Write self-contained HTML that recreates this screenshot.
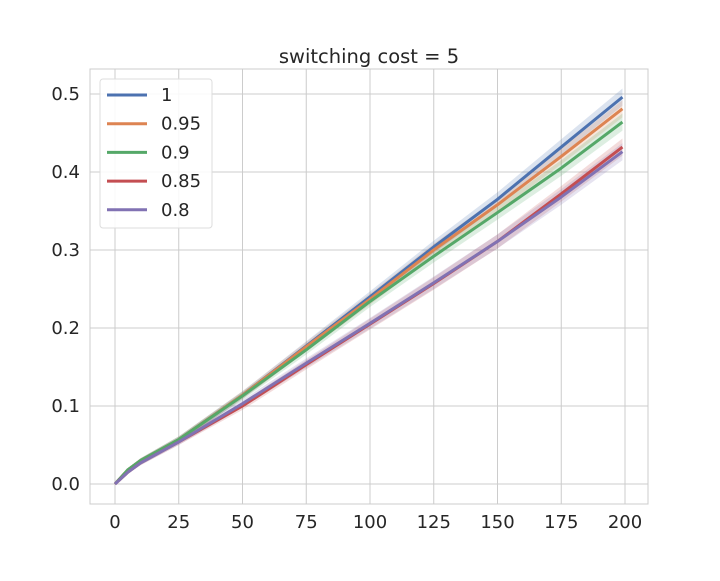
<!DOCTYPE html>
<html><head><meta charset="utf-8"><style>
body{margin:0;background:#fff}
svg{font-family:"DejaVu Sans","Liberation Sans",sans-serif}
</style></head><body>
<svg id="chart" width="720" height="576">
<rect x="90" y="69" width="558" height="435" fill="#fff" stroke="#ccc" stroke-width="1"/>
<g id="grid"></g><g id="bands"></g><g id="lines"></g><g id="ticks"></g>
<text x="369" y="63" text-anchor="middle" font-size="19.5" fill="#262626">switching cost = 5</text>
<g id="legend"></g>
</svg>
<script>
const xs=[0,5,10,25,50,75,100,125,150,175,199];
const seriesNames=["1","0.95","0.9","0.85","0.8"];
const colors=["#4c72b0","#dd8452","#55a868","#c44e52","#8172b3"];
const s1=[0,0.018,0.03,0.057,0.114,0.177,0.240,0.304,0.365,0.432,0.496];
const s095=[0,0.018,0.03,0.057,0.114,0.176,0.237,0.300,0.358,0.420,0.481];
const s09=[0,0.018,0.03,0.057,0.113,0.172,0.234,0.292,0.348,0.405,0.464];
const s085=[0,0.015,0.027,0.054,0.100,0.153,0.205,0.257,0.311,0.372,0.432];
const s08=[0,0.015,0.027,0.054,0.103,0.155,0.206,0.258,0.311,0.368,0.426];
const ciWidth=[0,0.002,0.003,0.004,0.005,0.006,0.007,0.008,0.009,0.010,0.011];
const xTicks=[0,25,50,75,100,125,150,175,200];
const yTicks=[0.0,0.1,0.2,0.3,0.4,0.5];
const all=[s1,s095,s09,s085,s08];
const X=v=>115+v*2.55, Y=v=>484-v*780;
const NS="http://www.w3.org/2000/svg";
function mk(t,a,p){const e=document.createElementNS(NS,t);for(const k in a)e.setAttribute(k,a[k]);p.appendChild(e);return e;}
const grid=document.getElementById('grid'),ticks=document.getElementById('ticks');
xTicks.forEach(t=>{
 const l=mk('line',{x1:X(t),x2:X(t),y1:69,y2:504,stroke:'#ccc','stroke-width':1},grid);
 
 
 const tx=mk('text',{x:X(t),y:528,'text-anchor':'middle','font-size':18,fill:'#262626'},ticks);
 tx.textContent=t;
 
 
});
yTicks.forEach(t=>{
 const l=mk('line',{x1:90,x2:648,y1:Y(t),y2:Y(t),stroke:'#ccc','stroke-width':1},grid);
 
 
 const tx=mk('text',{x:80,y:Y(t)+6,'text-anchor':'end','font-size':18,fill:'#262626'},ticks);
 tx.textContent=t.toFixed(1);
 
 
});
const bands=document.getElementById('bands'),lines=document.getElementById('lines');
all.forEach((s,i)=>{
 const up=xs.map((x,j)=>X(x)+','+Y(s[j]+ciWidth[j])).join(' ');
 const lo=xs.map((x,j)=>X(x)+','+Y(s[j]-ciWidth[j])).reverse().join(' ');
 const b=mk('polygon',{points:up+' '+lo,fill:colors[i],'fill-opacity':0.2},bands);
 
 
 const p=mk('polyline',{points:xs.map((x,j)=>X(x)+','+Y(s[j])).join(' '),fill:'none',stroke:colors[i],'stroke-width':3,'stroke-linejoin':'round'},lines);
 
 
});
const lg=document.getElementById('legend');
const box=mk('rect',{x:100,y:79,width:112,height:149,rx:3,fill:'#fff','fill-opacity':0.85,stroke:'#ddd'},lg);


seriesNames.forEach((n,i)=>{
 const y=95+i*28.7;
 const l=mk('line',{x1:107,x2:147,y1:y,y2:y,stroke:colors[i],'stroke-width':3},lg);
 
 
 const t=mk('text',{x:161,y:y+6,'font-size':18,fill:'#262626'},lg);
 t.textContent=n;
 
 
});
</script>
</body></html>
